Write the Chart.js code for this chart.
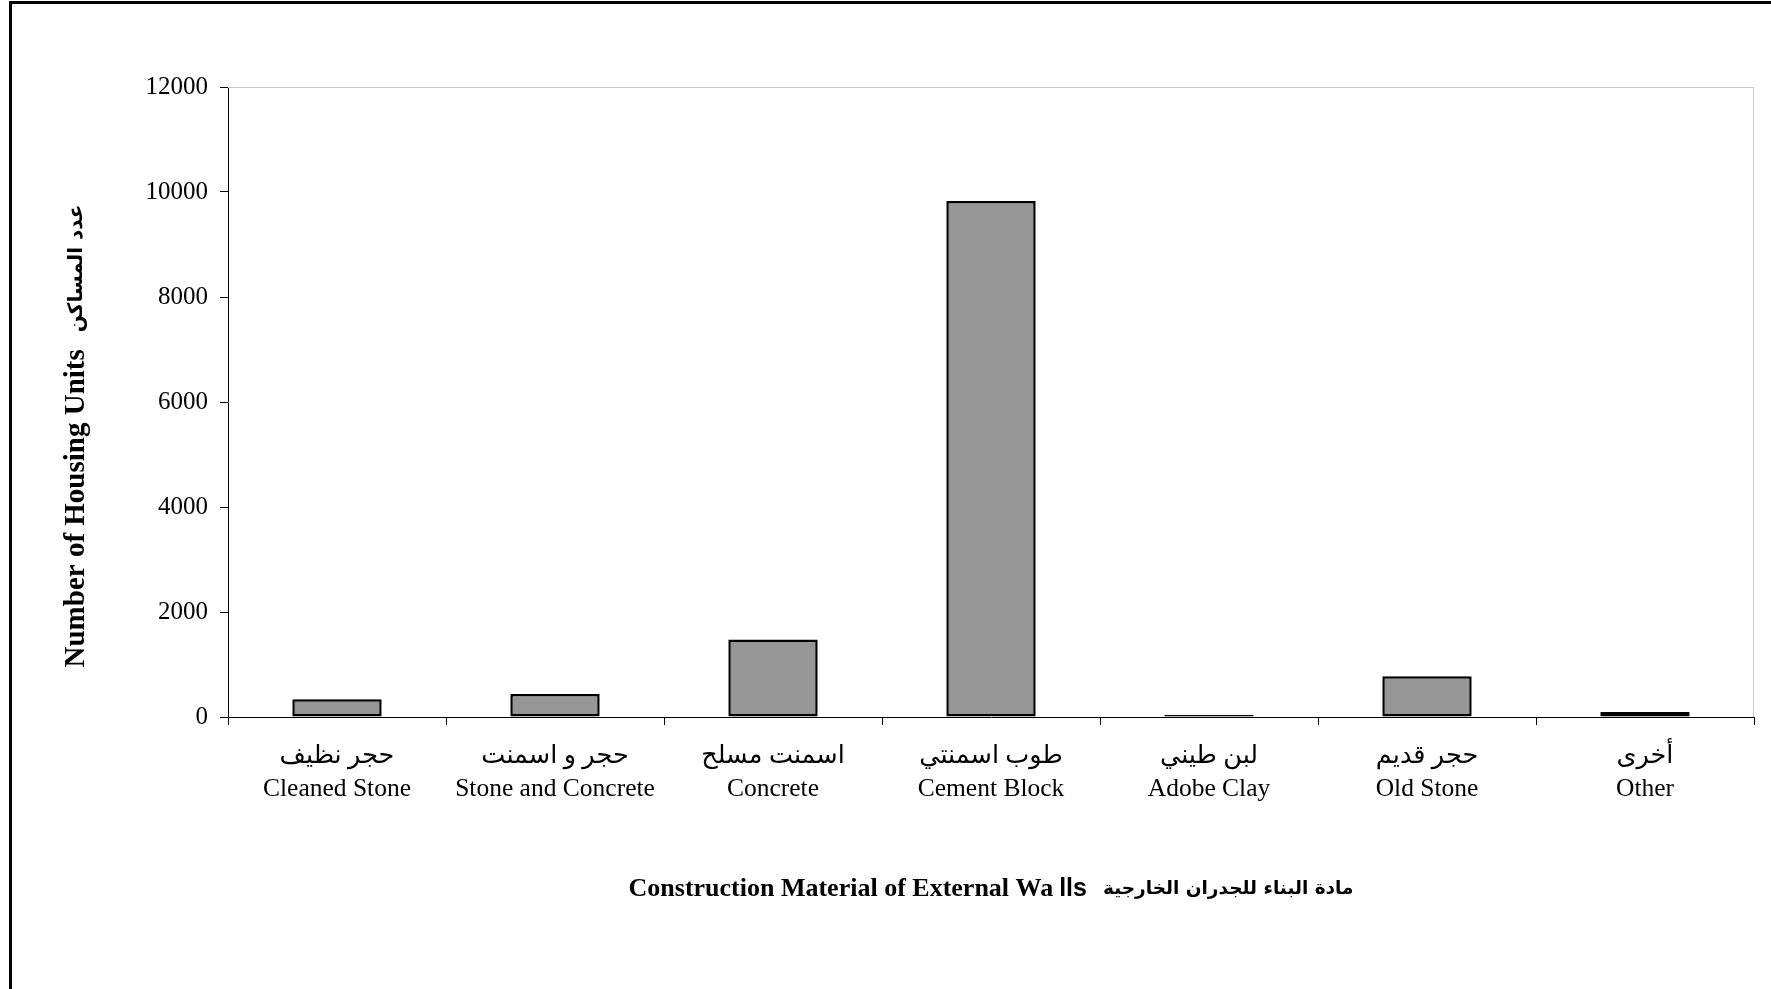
<!DOCTYPE html>
<html>
<head>
<meta charset="utf-8">
<script src="https://cdn.jsdelivr.net/npm/chart.js@4.4.1/dist/chart.umd.min.js"></script>
<style>
html,body{margin:0;padding:0;background:#fff;overflow:hidden}
canvas{display:block}
</style>
</head>
<body>
<canvas id="c" width="1771" height="989"></canvas>
<script>
// ---- data ----
const categoriesArabic = ['حجر نظيف', 'حجر و اسمنت', 'اسمنت مسلح', 'طوب اسمنتي', 'لبن طيني', 'حجر قديم', 'أخرى'];
const categoriesEnglish = ['Cleaned Stone', 'Stone and Concrete', 'Concrete', 'Cement Block', 'Adobe Clay', 'Old Stone', 'Other'];
const housingUnits = [340, 440, 1475, 9830, 40, 775, 95];
const yTickValues = [0, 2000, 4000, 6000, 8000, 10000, 12000];
const xTitleParts = ['Construction Material of External Wa', 'lls', 'مادة البناء للجدران الخارجية'];
const yTitleParts = ['Number of Housing Units', 'عدد المساكن'];

const SERIF = "'Liberation Serif', 'Times New Roman', 'DejaVu Sans', serif";
const SANS = "'Liberation Sans', Arial, 'DejaVu Sans', sans-serif";
const ARABIC = "'DejaVu Sans', sans-serif";

const framePlugin = {
  id: 'frame',
  beforeDraw(chart) {
    const ctx = chart.ctx;
    ctx.save();
    ctx.fillStyle = '#fff';
    ctx.fillRect(0, 0, chart.width, chart.height);
    ctx.fillStyle = '#000';
    ctx.fillRect(9, 1, chart.width - 9, 3);
    ctx.fillRect(9, 1, 3, chart.height - 1);
    ctx.restore();
  },
  beforeDatasetsDraw(chart) {
    const { ctx, chartArea: a } = chart;
    ctx.save();
    ctx.strokeStyle = '#c8c8c8';
    ctx.lineWidth = 1;
    ctx.beginPath();
    ctx.moveTo(a.left, Math.round(a.top) + 0.5);
    ctx.lineTo(Math.round(a.right) - 0.5, Math.round(a.top) + 0.5);
    ctx.lineTo(Math.round(a.right) - 0.5, a.bottom);
    ctx.stroke();
    ctx.restore();
  }
};

function drawSegments(ctx, segs, centerX, centerY) {
  let total = 0;
  const widths = segs.map(s => { ctx.font = s.font; const w = ctx.measureText(s.text).width; total += w + (s.gap || 0); return w; });
  let x = centerX - total / 2;
  segs.forEach((s, i) => {
    ctx.font = s.font;
    ctx.fillText(s.text, x, centerY + (s.dy || 0));
    x += widths[i] + (s.gap || 0);
  });
}

const axisTitlesPlugin = {
  id: 'axisTitles',
  afterDraw(chart) {
    const { ctx, chartArea: a } = chart;
    ctx.save();
    ctx.fillStyle = '#000';
    ctx.textAlign = 'left';
    ctx.textBaseline = 'middle';
    ctx.direction = 'ltr';
    // x title
    drawSegments(ctx, [
      { text: xTitleParts[0], font: 'bold 26px ' + SERIF, gap: 6 },
      { text: xTitleParts[1], font: 'bold 25px ' + SANS, gap: 16 },
      { text: xTitleParts[2], font: 'bold 18.5px ' + ARABIC }
    ], (a.left + a.right) / 2, a.bottom + 172);
    // y title
    ctx.translate(a.left - 151, (a.top + a.bottom) / 2 + 34);
    ctx.rotate(-Math.PI / 2);
    drawSegments(ctx, [
      { text: yTitleParts[0], font: 'bold 29px ' + SERIF, gap: 17 },
      { text: yTitleParts[1], font: 'bold 20px ' + ARABIC }
    ], 0, 0);
    ctx.restore();
  }
};

new Chart(document.getElementById('c'), {
  type: 'bar',
  data: {
    labels: categoriesArabic.map((ar, i) => [ar, categoriesEnglish[i]]),
    datasets: [{
      data: housingUnits,
      backgroundColor: '#969696',
      borderColor: '#000',
      borderWidth: 2.5,
      borderSkipped: false,
      categoryPercentage: 0.41,
      barPercentage: 1
    }]
  },
  options: {
    responsive: false,
    animation: false,
    devicePixelRatio: 1,
    layout: { padding: { left: 0, top: 87, right: 17, bottom: 0 } },
    plugins: { legend: { display: false }, tooltip: { enabled: false }, title: { display: false } },
    scales: {
      x: {
        offset: true,
        grid: { offset: true, display: true, drawOnChartArea: false, drawTicks: true, tickLength: 8, color: '#000', lineWidth: 1 },
        border: { display: true, color: '#000', width: 1 },
        ticks: { color: '#000', font: { family: SERIF, size: 25.5, lineHeight: 1.3 }, padding: 15, maxRotation: 0, minRotation: 0, autoSkip: false },
        afterFit(s) { s.height = 272; }
      },
      y: {
        min: yTickValues[0],
        max: yTickValues[yTickValues.length - 1],
        afterBuildTicks(s) { s.ticks = yTickValues.map(v => ({ value: v })); },
        grid: { display: true, drawOnChartArea: false, drawTicks: true, tickLength: 8, color: '#000', lineWidth: 1 },
        border: { display: true, color: '#000', width: 1 },
        ticks: { color: '#000', font: { family: SERIF, size: 25 }, padding: 12, callback: v => String(v) },
        afterFit(s) { s.width = 228; }
      }
    }
  },
  plugins: [framePlugin, axisTitlesPlugin]
});
</script>
</body>
</html>
